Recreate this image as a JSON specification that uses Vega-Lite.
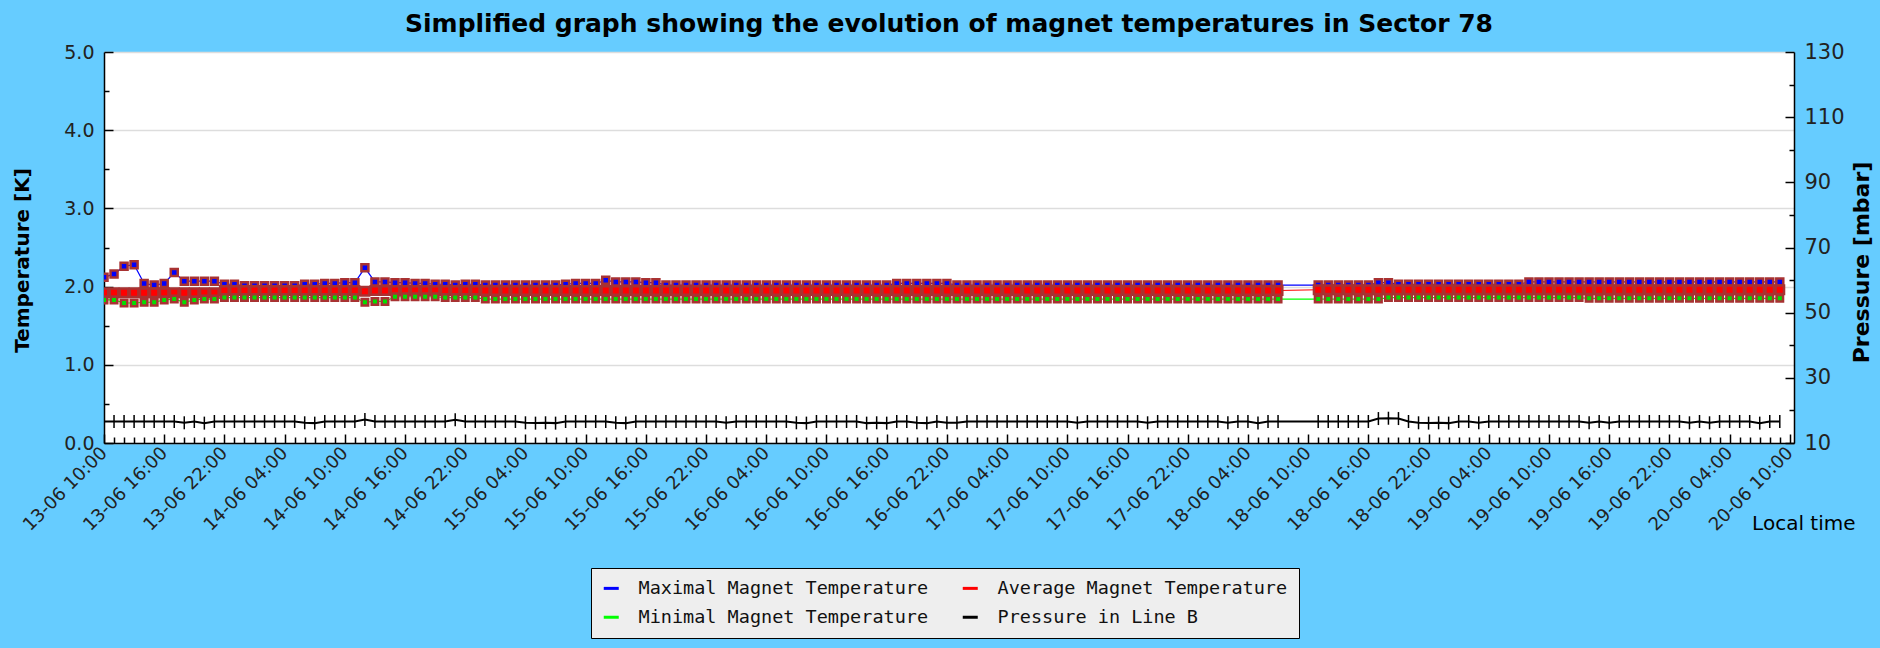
{
"$schema": "https://vega.github.io/schema/vega-lite/v6.json",
"width": 1690, "height": 391,
"autosize": {"type": "none"},
"padding": {"left": 104, "top": 52, "right": 86, "bottom": 205},
"background": "#66CCFF",
"title": {"text": "Simplified graph showing the evolution of magnet temperatures in Sector 78", "font": "DejaVu Sans", "fontSize": 25, "fontWeight": "bold", "color": "#000000", "anchor": "middle", "frame": "group", "offset": 4},
"config": {
  "view": {"fill": "#FFFFFF", "stroke": null},
  "axis": {"domainColor": "#000000", "domainWidth": 1.5, "tickColor": "#000000", "tickWidth": 1.5, "labelFont": "DejaVu Sans", "labelFontSize": 19, "labelColor": "#222222", "titleFont": "DejaVu Sans", "titleFontSize": 20, "titleFontWeight": "bold", "titleColor": "#000000", "gridColor": "#DDDDDD", "gridWidth": 1.5}
},
"data": {"values": [
{"t":"2008-06-13T10:00","mx":2.12,"av":1.92,"mn":1.83,"p":16.6},
{"t":"2008-06-13T11:00","mx":2.16,"av":1.92,"mn":1.83,"p":16.6},
{"t":"2008-06-13T12:00","mx":2.26,"av":1.92,"mn":1.79,"p":16.6},
{"t":"2008-06-13T13:00","mx":2.28,"av":1.92,"mn":1.79,"p":16.6},
{"t":"2008-06-13T14:00","mx":2.04,"av":1.92,"mn":1.80,"p":16.6},
{"t":"2008-06-13T15:00","mx":2.02,"av":1.92,"mn":1.80,"p":16.6},
{"t":"2008-06-13T16:00","mx":2.04,"av":1.92,"mn":1.83,"p":16.6},
{"t":"2008-06-13T17:00","mx":2.18,"av":1.92,"mn":1.84,"p":16.6},
{"t":"2008-06-13T18:00","mx":2.07,"av":1.92,"mn":1.80,"p":16.2},
{"t":"2008-06-13T19:00","mx":2.07,"av":1.92,"mn":1.83,"p":16.6},
{"t":"2008-06-13T20:00","mx":2.07,"av":1.92,"mn":1.84,"p":16.1},
{"t":"2008-06-13T21:00","mx":2.07,"av":1.92,"mn":1.84,"p":16.6},
{"t":"2008-06-13T22:00","mx":2.03,"av":1.95,"mn":1.86,"p":16.6},
{"t":"2008-06-13T23:00","mx":2.03,"av":1.95,"mn":1.86,"p":16.6},
{"t":"2008-06-14T00:00","mx":2.01,"av":1.95,"mn":1.86,"p":16.6},
{"t":"2008-06-14T01:00","mx":2.01,"av":1.95,"mn":1.86,"p":16.6},
{"t":"2008-06-14T02:00","mx":2.01,"av":1.95,"mn":1.86,"p":16.6},
{"t":"2008-06-14T03:00","mx":2.01,"av":1.95,"mn":1.86,"p":16.6},
{"t":"2008-06-14T04:00","mx":2.01,"av":1.95,"mn":1.86,"p":16.6},
{"t":"2008-06-14T05:00","mx":2.01,"av":1.95,"mn":1.86,"p":16.6},
{"t":"2008-06-14T06:00","mx":2.03,"av":1.95,"mn":1.86,"p":16.2},
{"t":"2008-06-14T07:00","mx":2.03,"av":1.95,"mn":1.86,"p":16.1},
{"t":"2008-06-14T08:00","mx":2.04,"av":1.95,"mn":1.86,"p":16.6},
{"t":"2008-06-14T09:00","mx":2.04,"av":1.95,"mn":1.86,"p":16.6},
{"t":"2008-06-14T10:00","mx":2.05,"av":1.95,"mn":1.86,"p":16.6},
{"t":"2008-06-14T11:00","mx":2.05,"av":1.95,"mn":1.86,"p":16.6},
{"t":"2008-06-14T12:00","mx":2.24,"av":1.94,"mn":1.80,"p":17.2},
{"t":"2008-06-14T13:00","mx":2.06,"av":1.95,"mn":1.81,"p":16.6},
{"t":"2008-06-14T14:00","mx":2.06,"av":1.95,"mn":1.81,"p":16.6},
{"t":"2008-06-14T15:00","mx":2.05,"av":1.95,"mn":1.87,"p":16.6},
{"t":"2008-06-14T16:00","mx":2.05,"av":1.95,"mn":1.87,"p":16.6},
{"t":"2008-06-14T17:00","mx":2.04,"av":1.95,"mn":1.87,"p":16.6},
{"t":"2008-06-14T18:00","mx":2.04,"av":1.95,"mn":1.87,"p":16.6},
{"t":"2008-06-14T19:00","mx":2.03,"av":1.95,"mn":1.87,"p":16.6},
{"t":"2008-06-14T20:00","mx":2.03,"av":1.95,"mn":1.86,"p":16.6},
{"t":"2008-06-14T21:00","mx":2.02,"av":1.95,"mn":1.86,"p":17.1},
{"t":"2008-06-14T22:00","mx":2.03,"av":1.95,"mn":1.86,"p":16.6},
{"t":"2008-06-14T23:00","mx":2.03,"av":1.95,"mn":1.86,"p":16.6},
{"t":"2008-06-15T00:00","mx":2.02,"av":1.95,"mn":1.84,"p":16.6},
{"t":"2008-06-15T01:00","mx":2.02,"av":1.95,"mn":1.84,"p":16.6},
{"t":"2008-06-15T02:00","mx":2.02,"av":1.95,"mn":1.84,"p":16.6},
{"t":"2008-06-15T03:00","mx":2.02,"av":1.95,"mn":1.84,"p":16.6},
{"t":"2008-06-15T04:00","mx":2.02,"av":1.95,"mn":1.84,"p":16.2},
{"t":"2008-06-15T05:00","mx":2.02,"av":1.95,"mn":1.84,"p":16.1},
{"t":"2008-06-15T06:00","mx":2.02,"av":1.95,"mn":1.84,"p":16.2},
{"t":"2008-06-15T07:00","mx":2.02,"av":1.95,"mn":1.84,"p":16.1},
{"t":"2008-06-15T08:00","mx":2.03,"av":1.95,"mn":1.84,"p":16.6},
{"t":"2008-06-15T09:00","mx":2.04,"av":1.95,"mn":1.84,"p":16.6},
{"t":"2008-06-15T10:00","mx":2.04,"av":1.95,"mn":1.84,"p":16.6},
{"t":"2008-06-15T11:00","mx":2.04,"av":1.95,"mn":1.84,"p":16.6},
{"t":"2008-06-15T12:00","mx":2.08,"av":1.95,"mn":1.84,"p":16.6},
{"t":"2008-06-15T13:00","mx":2.06,"av":1.95,"mn":1.84,"p":16.2},
{"t":"2008-06-15T14:00","mx":2.06,"av":1.95,"mn":1.84,"p":16.1},
{"t":"2008-06-15T15:00","mx":2.06,"av":1.95,"mn":1.84,"p":16.6},
{"t":"2008-06-15T16:00","mx":2.05,"av":1.95,"mn":1.84,"p":16.6},
{"t":"2008-06-15T17:00","mx":2.05,"av":1.95,"mn":1.84,"p":16.6},
{"t":"2008-06-15T18:00","mx":2.02,"av":1.95,"mn":1.84,"p":16.6},
{"t":"2008-06-15T19:00","mx":2.02,"av":1.95,"mn":1.84,"p":16.6},
{"t":"2008-06-15T20:00","mx":2.02,"av":1.95,"mn":1.84,"p":16.6},
{"t":"2008-06-15T21:00","mx":2.02,"av":1.95,"mn":1.84,"p":16.6},
{"t":"2008-06-15T22:00","mx":2.02,"av":1.95,"mn":1.84,"p":16.6},
{"t":"2008-06-15T23:00","mx":2.02,"av":1.95,"mn":1.84,"p":16.6},
{"t":"2008-06-16T00:00","mx":2.02,"av":1.95,"mn":1.84,"p":16.2},
{"t":"2008-06-16T01:00","mx":2.02,"av":1.95,"mn":1.84,"p":16.6},
{"t":"2008-06-16T02:00","mx":2.02,"av":1.95,"mn":1.84,"p":16.6},
{"t":"2008-06-16T03:00","mx":2.02,"av":1.95,"mn":1.84,"p":16.6},
{"t":"2008-06-16T04:00","mx":2.02,"av":1.95,"mn":1.84,"p":16.6},
{"t":"2008-06-16T05:00","mx":2.02,"av":1.95,"mn":1.84,"p":16.6},
{"t":"2008-06-16T06:00","mx":2.02,"av":1.95,"mn":1.84,"p":16.6},
{"t":"2008-06-16T07:00","mx":2.02,"av":1.95,"mn":1.84,"p":16.2},
{"t":"2008-06-16T08:00","mx":2.02,"av":1.95,"mn":1.84,"p":16.1},
{"t":"2008-06-16T09:00","mx":2.02,"av":1.95,"mn":1.84,"p":16.6},
{"t":"2008-06-16T10:00","mx":2.02,"av":1.95,"mn":1.84,"p":16.6},
{"t":"2008-06-16T11:00","mx":2.02,"av":1.95,"mn":1.84,"p":16.6},
{"t":"2008-06-16T12:00","mx":2.02,"av":1.95,"mn":1.84,"p":16.6},
{"t":"2008-06-16T13:00","mx":2.02,"av":1.95,"mn":1.84,"p":16.6},
{"t":"2008-06-16T14:00","mx":2.02,"av":1.95,"mn":1.84,"p":16.1},
{"t":"2008-06-16T15:00","mx":2.02,"av":1.95,"mn":1.84,"p":16.2},
{"t":"2008-06-16T16:00","mx":2.02,"av":1.95,"mn":1.84,"p":16.1},
{"t":"2008-06-16T17:00","mx":2.04,"av":1.95,"mn":1.84,"p":16.6},
{"t":"2008-06-16T18:00","mx":2.04,"av":1.95,"mn":1.84,"p":16.6},
{"t":"2008-06-16T19:00","mx":2.04,"av":1.95,"mn":1.84,"p":16.2},
{"t":"2008-06-16T20:00","mx":2.04,"av":1.95,"mn":1.84,"p":16.1},
{"t":"2008-06-16T21:00","mx":2.04,"av":1.95,"mn":1.84,"p":16.6},
{"t":"2008-06-16T22:00","mx":2.04,"av":1.95,"mn":1.84,"p":16.2},
{"t":"2008-06-16T23:00","mx":2.02,"av":1.95,"mn":1.84,"p":16.2},
{"t":"2008-06-17T00:00","mx":2.02,"av":1.95,"mn":1.84,"p":16.6},
{"t":"2008-06-17T01:00","mx":2.02,"av":1.95,"mn":1.84,"p":16.6},
{"t":"2008-06-17T02:00","mx":2.02,"av":1.95,"mn":1.84,"p":16.6},
{"t":"2008-06-17T03:00","mx":2.02,"av":1.95,"mn":1.84,"p":16.6},
{"t":"2008-06-17T04:00","mx":2.02,"av":1.95,"mn":1.84,"p":16.6},
{"t":"2008-06-17T05:00","mx":2.02,"av":1.95,"mn":1.84,"p":16.6},
{"t":"2008-06-17T06:00","mx":2.02,"av":1.95,"mn":1.84,"p":16.6},
{"t":"2008-06-17T07:00","mx":2.02,"av":1.95,"mn":1.84,"p":16.6},
{"t":"2008-06-17T08:00","mx":2.02,"av":1.95,"mn":1.84,"p":16.6},
{"t":"2008-06-17T09:00","mx":2.02,"av":1.95,"mn":1.84,"p":16.6},
{"t":"2008-06-17T10:00","mx":2.02,"av":1.95,"mn":1.84,"p":16.6},
{"t":"2008-06-17T11:00","mx":2.02,"av":1.95,"mn":1.84,"p":16.2},
{"t":"2008-06-17T12:00","mx":2.02,"av":1.95,"mn":1.84,"p":16.6},
{"t":"2008-06-17T13:00","mx":2.02,"av":1.95,"mn":1.84,"p":16.6},
{"t":"2008-06-17T14:00","mx":2.02,"av":1.95,"mn":1.84,"p":16.6},
{"t":"2008-06-17T15:00","mx":2.02,"av":1.95,"mn":1.84,"p":16.6},
{"t":"2008-06-17T16:00","mx":2.02,"av":1.95,"mn":1.84,"p":16.6},
{"t":"2008-06-17T17:00","mx":2.02,"av":1.95,"mn":1.84,"p":16.6},
{"t":"2008-06-17T18:00","mx":2.02,"av":1.95,"mn":1.84,"p":16.2},
{"t":"2008-06-17T19:00","mx":2.02,"av":1.95,"mn":1.84,"p":16.6},
{"t":"2008-06-17T20:00","mx":2.02,"av":1.95,"mn":1.84,"p":16.6},
{"t":"2008-06-17T21:00","mx":2.02,"av":1.95,"mn":1.84,"p":16.6},
{"t":"2008-06-17T22:00","mx":2.02,"av":1.95,"mn":1.84,"p":16.6},
{"t":"2008-06-17T23:00","mx":2.02,"av":1.95,"mn":1.84,"p":16.6},
{"t":"2008-06-18T00:00","mx":2.02,"av":1.95,"mn":1.84,"p":16.6},
{"t":"2008-06-18T01:00","mx":2.02,"av":1.95,"mn":1.84,"p":16.6},
{"t":"2008-06-18T02:00","mx":2.02,"av":1.95,"mn":1.84,"p":16.2},
{"t":"2008-06-18T03:00","mx":2.02,"av":1.95,"mn":1.84,"p":16.6},
{"t":"2008-06-18T04:00","mx":2.02,"av":1.95,"mn":1.84,"p":16.6},
{"t":"2008-06-18T05:00","mx":2.02,"av":1.95,"mn":1.84,"p":16.1},
{"t":"2008-06-18T06:00","mx":2.02,"av":1.95,"mn":1.84,"p":16.6},
{"t":"2008-06-18T07:00","mx":2.02,"av":1.95,"mn":1.84,"p":16.6},
{"t":"2008-06-18T11:00","mx":2.02,"av":1.96,"mn":1.84,"p":16.6},
{"t":"2008-06-18T12:00","mx":2.02,"av":1.96,"mn":1.84,"p":16.6},
{"t":"2008-06-18T13:00","mx":2.02,"av":1.96,"mn":1.84,"p":16.6},
{"t":"2008-06-18T14:00","mx":2.02,"av":1.96,"mn":1.84,"p":16.6},
{"t":"2008-06-18T15:00","mx":2.02,"av":1.96,"mn":1.84,"p":16.6},
{"t":"2008-06-18T16:00","mx":2.02,"av":1.96,"mn":1.84,"p":16.6},
{"t":"2008-06-18T17:00","mx":2.05,"av":1.96,"mn":1.84,"p":17.5},
{"t":"2008-06-18T18:00","mx":2.05,"av":1.96,"mn":1.86,"p":17.6},
{"t":"2008-06-18T19:00","mx":2.03,"av":1.96,"mn":1.86,"p":17.5},
{"t":"2008-06-18T20:00","mx":2.03,"av":1.96,"mn":1.86,"p":16.6},
{"t":"2008-06-18T21:00","mx":2.03,"av":1.96,"mn":1.86,"p":16.2},
{"t":"2008-06-18T22:00","mx":2.03,"av":1.96,"mn":1.86,"p":16.1},
{"t":"2008-06-18T23:00","mx":2.03,"av":1.96,"mn":1.86,"p":16.2},
{"t":"2008-06-19T00:00","mx":2.03,"av":1.96,"mn":1.86,"p":16.1},
{"t":"2008-06-19T01:00","mx":2.03,"av":1.96,"mn":1.86,"p":16.6},
{"t":"2008-06-19T02:00","mx":2.03,"av":1.96,"mn":1.86,"p":16.6},
{"t":"2008-06-19T03:00","mx":2.03,"av":1.96,"mn":1.86,"p":16.2},
{"t":"2008-06-19T04:00","mx":2.03,"av":1.96,"mn":1.86,"p":16.6},
{"t":"2008-06-19T05:00","mx":2.03,"av":1.96,"mn":1.86,"p":16.6},
{"t":"2008-06-19T06:00","mx":2.03,"av":1.96,"mn":1.86,"p":16.6},
{"t":"2008-06-19T07:00","mx":2.03,"av":1.96,"mn":1.86,"p":16.6},
{"t":"2008-06-19T08:00","mx":2.06,"av":1.96,"mn":1.86,"p":16.6},
{"t":"2008-06-19T09:00","mx":2.06,"av":1.96,"mn":1.86,"p":16.6},
{"t":"2008-06-19T10:00","mx":2.06,"av":1.96,"mn":1.86,"p":16.6},
{"t":"2008-06-19T11:00","mx":2.06,"av":1.96,"mn":1.86,"p":16.6},
{"t":"2008-06-19T12:00","mx":2.06,"av":1.96,"mn":1.86,"p":16.6},
{"t":"2008-06-19T13:00","mx":2.06,"av":1.96,"mn":1.86,"p":16.6},
{"t":"2008-06-19T14:00","mx":2.06,"av":1.96,"mn":1.85,"p":16.2},
{"t":"2008-06-19T15:00","mx":2.06,"av":1.96,"mn":1.85,"p":16.6},
{"t":"2008-06-19T16:00","mx":2.06,"av":1.96,"mn":1.85,"p":16.2},
{"t":"2008-06-19T17:00","mx":2.06,"av":1.96,"mn":1.85,"p":16.6},
{"t":"2008-06-19T18:00","mx":2.06,"av":1.96,"mn":1.85,"p":16.6},
{"t":"2008-06-19T19:00","mx":2.06,"av":1.96,"mn":1.85,"p":16.6},
{"t":"2008-06-19T20:00","mx":2.06,"av":1.96,"mn":1.85,"p":16.6},
{"t":"2008-06-19T21:00","mx":2.06,"av":1.96,"mn":1.85,"p":16.6},
{"t":"2008-06-19T22:00","mx":2.06,"av":1.96,"mn":1.85,"p":16.6},
{"t":"2008-06-19T23:00","mx":2.06,"av":1.96,"mn":1.85,"p":16.6},
{"t":"2008-06-20T00:00","mx":2.06,"av":1.96,"mn":1.85,"p":16.2},
{"t":"2008-06-20T01:00","mx":2.06,"av":1.96,"mn":1.85,"p":16.6},
{"t":"2008-06-20T02:00","mx":2.06,"av":1.96,"mn":1.85,"p":16.2},
{"t":"2008-06-20T03:00","mx":2.06,"av":1.96,"mn":1.85,"p":16.6},
{"t":"2008-06-20T04:00","mx":2.06,"av":1.96,"mn":1.85,"p":16.6},
{"t":"2008-06-20T05:00","mx":2.06,"av":1.96,"mn":1.85,"p":16.6},
{"t":"2008-06-20T06:00","mx":2.06,"av":1.96,"mn":1.85,"p":16.6},
{"t":"2008-06-20T07:00","mx":2.06,"av":1.96,"mn":1.85,"p":16.1},
{"t":"2008-06-20T08:00","mx":2.06,"av":1.96,"mn":1.85,"p":16.6},
{"t":"2008-06-20T09:00","mx":2.06,"av":1.96,"mn":1.85,"p":16.6}
]},
"transform": [{"fold": ["mx", "av", "mn", "p"], "as": ["series", "v"]}],
"encoding": {
  "x": {"field": "t", "type": "temporal",
    "scale": {"domain": [{"year": 2008, "month": 6, "date": 13, "hours": 10}, {"year": 2008, "month": 6, "date": 20, "hours": 10, "minutes": 25}]},
    "axis": {"title": "Local time", "titleFontWeight": "normal", "titleFontSize": 20, "titleX": 1751, "titleY": 80, "titleAlign": "right", "titleBaseline": "middle", "titleAngle": 0,
      "tickCount": 168, "grid": false, "labelOverlap": false, "labelFlush": false,
      "labelExpr": "hours(datum.value) % 6 === 4 ? timeFormat(datum.value, '%d-%m %H:%M') : ''",
      "labelAngle": 315, "labelAlign": "right", "labelBaseline": "middle", "labelPadding": 16, "labelFontSize": 18,
      "tickSize": {"condition": {"test": "hours(datum.value) % 6 === 4", "value": -9}, "value": -6}}}
},
"layer": [
  {
    "transform": [{"filter": "datum.series !== 'p'"}],
    "encoding": {"y": {"field": "v", "type": "quantitative", "scale": {"domain": [0, 5], "nice": false, "zero": false},
      "axis": {"title": "Temperature [K]", "titleX": -82, "titleY": 208, "titleAngle": 270, "titleAlign": "center", "titleBaseline": "middle",
        "values": [0, 0.5, 1, 1.5, 2, 2.5, 3, 3.5, 4, 4.5, 5],
        "labelExpr": "datum.value % 1 === 0 ? format(datum.value, '.1f') : ''",
        "labelPadding": 19,
        "tickSize": {"condition": {"test": "datum.value % 1 === 0", "value": -9}, "value": -5},
        "gridOpacity": {"condition": {"test": "datum.value % 1 === 0", "value": 1}, "value": 0}}}},
    "layer": [
      {"mark": {"type": "line", "strokeWidth": 1.2, "clip": true},
       "encoding": {"color": {"field": "series", "type": "nominal",
         "scale": {"domain": ["mx", "mn", "av", "p"], "range": ["#0000FF", "#00FF00", "#FF0000", "#000000"]},
         "legend": {"orient": "none", "legendX": 487, "legendY": 516, "columns": 2, "title": null,
           "labelExpr": "datum.label === 'mx' ? 'Maximal Magnet Temperature' : datum.label === 'av' ? 'Average Magnet Temperature' : datum.label === 'mn' ? 'Minimal Magnet Temperature' : 'Pressure in Line B'",
           "labelFont": "DejaVu Sans Mono", "labelFontSize": 18.5, "labelColor": "#111111", "labelLimit": 400,
           "symbolType": "stroke", "symbolStrokeWidth": 3, "symbolSize": 225, "labelOffset": 18,
           "fillColor": "#EEEEEE", "strokeColor": "#000000", "padding": 11, "rowPadding": 10, "columnPadding": 27}}}},
      {"transform": [{"filter": "datum.series === 'mx'"}],
       "mark": {"type": "point", "shape": "square", "filled": true, "size": 49, "fill": "#0000FF", "stroke": "#A83232", "strokeWidth": 2.5, "opacity": 1, "clip": true},
       "encoding": {}},
      {"transform": [{"filter": "datum.series === 'av'"}],
       "mark": {"type": "point", "shape": "square", "filled": true, "size": 72, "fill": "#FF0000", "stroke": "#A83232", "strokeWidth": 2.5, "opacity": 1, "clip": true},
       "encoding": {}},
      {"transform": [{"filter": "datum.series === 'mn'"}],
       "mark": {"type": "point", "shape": "square", "filled": true, "size": 42, "fill": "#00E000", "stroke": "#A83232", "strokeWidth": 2.5, "opacity": 1, "clip": true},
       "encoding": {}}
    ]
  },
  {
    "transform": [{"filter": "datum.series === 'p'"}],
    "encoding": {"y": {"field": "v", "type": "quantitative", "scale": {"domain": [10, 130], "nice": false, "zero": false},
      "axis": {"orient": "right", "title": "Pressure [mbar]", "titleFontSize": 22, "titleX": 67, "titleY": 210, "titleAngle": 270, "titleAlign": "center", "titleBaseline": "middle",
        "values": [10, 20, 30, 40, 50, 60, 70, 80, 90, 100, 110, 120, 130],
        "labelExpr": "datum.value % 20 === 10 ? format(datum.value, 'd') : ''",
        "labelPadding": 19, "labelFontSize": 21, "grid": false,
        "tickSize": {"condition": {"test": "datum.value % 20 === 10", "value": -9}, "value": -5}}}},
    "layer": [
      {"mark": {"type": "line", "strokeWidth": 2, "clip": true},
       "encoding": {"color": {"field": "series", "type": "nominal",
         "scale": {"domain": ["mx", "mn", "av", "p"], "range": ["#0000FF", "#00FF00", "#FF0000", "#000000"]}}}},
      {"mark": {"type": "tick", "orient": "vertical", "size": 13, "thickness": 1.5, "color": "#000000", "opacity": 1, "clip": true},
       "encoding": {}}
    ]
  }
],
"resolve": {"scale": {"y": "independent"}}
}
